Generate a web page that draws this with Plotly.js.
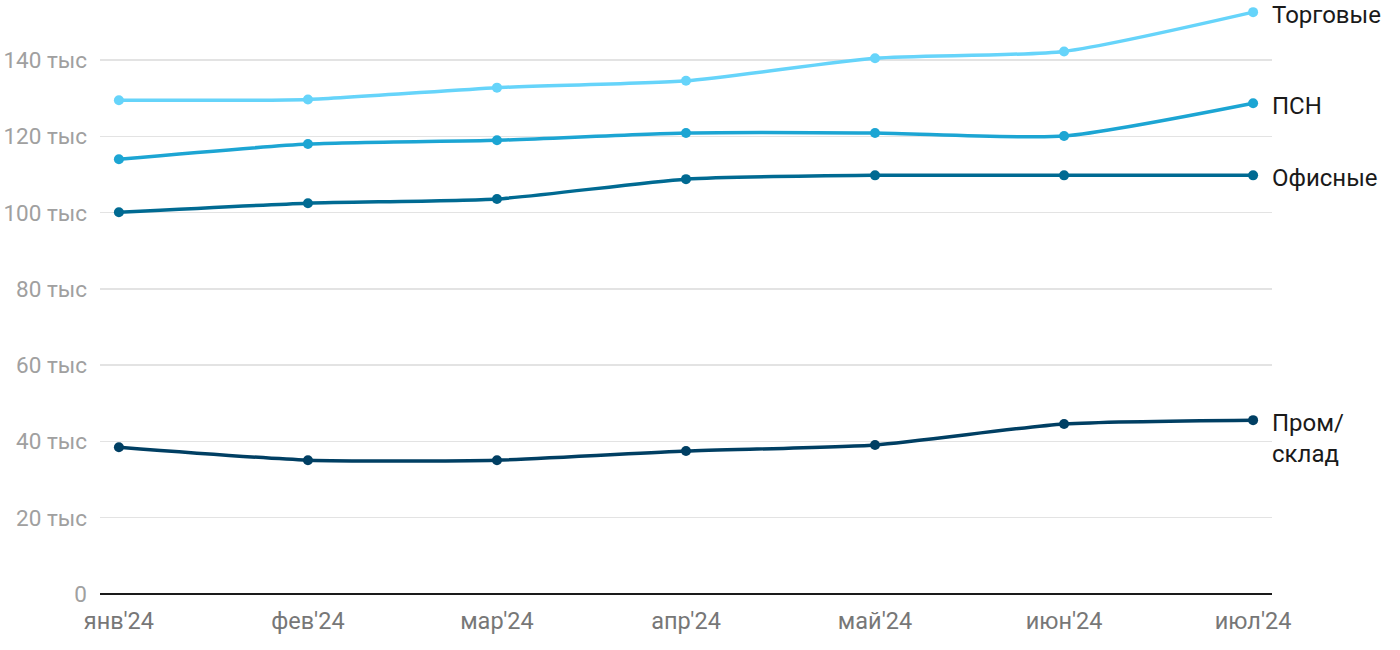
<!DOCTYPE html>
<html>
<head>
<meta charset="utf-8">
<script src="https://cdn.plot.ly/plotly-3.0.1.min.js"></script>
<style>html,body{margin:0;padding:0;background:#fff}#chart{width:1400px;height:650px}</style>
</head>
<body>
<div id="chart"></div>
<script>
const months = ["янв'24","фев'24","мар'24","апр'24","май'24","июн'24","июл'24"];
const retail = [129.5, 129.7, 132.8, 134.6, 140.5, 142.3, 152.6];
const psn = [114.0, 118.0, 119.0, 120.9, 120.9, 120.1, 128.7];
const office = [100.1, 102.5, 103.6, 108.8, 109.8, 109.8, 109.8];
const industrial = [38.5, 35.1, 35.1, 37.5, 39.1, 44.6, 45.6];
const seriesNames = ["Торговые", "ПСН", "Офисные", "Пром/<br>склад"];
const yTickVals = [0, 20, 40, 60, 80, 100, 120, 140];
const yTickText = ["0", "20 тыс", "40 тыс", "60 тыс", "80 тыс", "100 тыс", "120 тыс", "140 тыс"];

const colors = ["#66d4fa", "#1ca5d3", "#006a92", "#003f63"];
const allSeries = [retail, psn, office, industrial];

const traces = allSeries.map((ys, i) => ({
  x: months, y: ys.map(v => v * 1000), type: 'scatter', mode: 'lines+markers',
  line: {color: colors[i], width: 3.5, shape: 'spline', smoothing: 0.6},
  marker: {color: colors[i], size: 10},
  cliponaxis: false, hoverinfo: 'skip', showlegend: false
}));

const annotations = allSeries.map((ys, i) => ({
  x: months[months.length - 1], y: ys[ys.length - 1] * 1000,
  xref: 'x', yref: 'y', text: seriesNames[i], showarrow: false,
  xanchor: 'left', yanchor: i === 3 ? 'top' : 'middle',
  xshift: 17, yshift: i === 3 ? 13 : -3, align: 'left',
  font: {family: 'Roboto, sans-serif', size: 24, color: '#1a1a1a'}
}));

const layout = {
  width: 1400, height: 650,
  margin: {l: 100, r: 128, t: 3, b: 56},
  paper_bgcolor: '#fff', plot_bgcolor: '#fff',
  font: {family: 'Roboto, sans-serif'},
  xaxis: {
    type: 'category', range: [-0.1, 6.1], showgrid: false, zeroline: false,
    showline: false, ticks: '', ticklabelstandoff: 10,
    tickfont: {family: 'Roboto, sans-serif', size: 23.5, color: '#777'}
  },
  yaxis: {
    range: [0, 155000], tickvals: yTickVals.map(v => v * 1000), ticktext: yTickText,
    showgrid: true, gridcolor: '#e3e3e3', gridwidth: 1.5, zeroline: true,
    zerolinecolor: '#1a1a1a', zerolinewidth: 2, showline: false, ticks: '',
    ticklabelstandoff: 12,
    tickfont: {family: 'Roboto, sans-serif', size: 22.5, color: '#a0a0a0'}
  },
  annotations: annotations
};

Plotly.newPlot('chart', traces, layout, {displayModeBar: false, staticPlot: true});
</script>
</body>
</html>
